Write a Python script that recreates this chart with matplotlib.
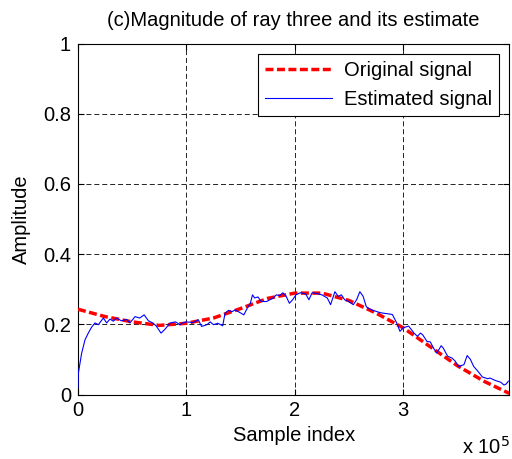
import numpy as np
import matplotlib
matplotlib.use('Agg')
from matplotlib import pyplot as plt

plt.rcParams['font.family'] = ['Liberation Sans', 'DejaVu Sans']

# sample index in units of 1e5
orig_x = [0, 0.25, 0.5, 0.75, 1.0, 1.25, 1.5, 1.75, 2.0, 2.25, 2.5, 2.75,
          3.0, 3.25, 3.5, 3.75, 3.98]
orig_y = [0.243, 0.222, 0.207, 0.197, 0.203, 0.218, 0.245, 0.274, 0.289,
          0.289, 0.268, 0.232, 0.190, 0.136, 0.082, 0.037, 0.003]

est_x = [0.0, 0.003, 0.034, 0.065, 0.095, 0.126, 0.157, 0.188, 0.234, 0.265,
         0.295, 0.326, 0.357, 0.40, 0.45, 0.48, 0.526, 0.57, 0.61, 0.65,
         0.69, 0.72, 0.766, 0.80, 0.85, 0.90, 0.94, 0.97, 1.0, 1.06,
         1.11, 1.14, 1.19, 1.22, 1.25, 1.29, 1.335, 1.357, 1.39, 1.42,
         1.45, 1.48, 1.53, 1.56, 1.59, 1.61, 1.63, 1.66, 1.69, 1.74,
         1.77, 1.80, 1.83, 1.86, 1.89, 1.92, 1.95, 1.98, 2.01, 2.05,
         2.10, 2.13, 2.16, 2.20, 2.25, 2.30, 2.33, 2.37, 2.40, 2.43,
         2.46, 2.49, 2.54, 2.57, 2.60, 2.63, 2.66, 2.69, 2.72, 2.75,
         2.78, 2.81, 2.86, 2.90, 2.94, 2.97, 3.00, 3.05, 3.10, 3.13,
         3.16, 3.18, 3.22, 3.25, 3.28, 3.31, 3.35, 3.37, 3.41, 3.45,
         3.48, 3.51, 3.56, 3.59, 3.62, 3.65, 3.69, 3.73, 3.78, 3.80,
         3.85, 3.90, 3.93, 3.95, 3.97]
est_y = [0.02, 0.06, 0.118, 0.156, 0.175, 0.192, 0.204, 0.199, 0.218, 0.204,
         0.215, 0.209, 0.218, 0.21, 0.214, 0.204, 0.222, 0.218, 0.227, 0.21,
         0.204, 0.196, 0.175, 0.185, 0.204, 0.207, 0.199, 0.205, 0.207, 0.205,
         0.213, 0.194, 0.199, 0.207, 0.199, 0.203, 0.196, 0.232, 0.24, 0.236,
         0.241, 0.236, 0.227, 0.245, 0.26, 0.284, 0.275, 0.278, 0.265, 0.265,
         0.27, 0.275, 0.284, 0.282, 0.29, 0.28, 0.26, 0.27, 0.284, 0.29,
         0.287, 0.27, 0.29, 0.288, 0.284, 0.275, 0.256, 0.293, 0.28, 0.284,
         0.27, 0.266, 0.256, 0.27, 0.293, 0.28, 0.25, 0.244, 0.24, 0.237,
         0.234, 0.232, 0.23, 0.228, 0.204, 0.18, 0.19, 0.195, 0.175, 0.166,
         0.175, 0.17, 0.151, 0.15, 0.132, 0.118, 0.139, 0.132, 0.109, 0.104,
         0.095, 0.08, 0.085, 0.111, 0.10, 0.08, 0.066, 0.05, 0.045, 0.047,
         0.04, 0.035, 0.027, 0.03, 0.038]

xticks = [0, 1, 2, 3]
yticks = [0, 0.2, 0.4, 0.6, 0.8, 1]
ytick_labels = ['0', '0.2', '0.4', '0.6', '0.8', '1']

fs = 14.5

fig = plt.figure(figsize=(5.12, 4.59), dpi=100)
ax = fig.add_axes([0.1523, 0.1405, 0.8427, 0.7645])

ax.plot(orig_x, orig_y, color='#ff0000', lw=2.5, dashes=(2.3, 1.0),
        label='Original signal', zorder=3)
ax.plot(est_x, est_y, color='#0000ff', lw=0.8, label='Estimated signal', zorder=4)

ax.set_xlim(0, 3.98)
ax.set_ylim(0, 1)
ax.set_xticks(xticks)
ax.set_yticks(yticks)
ax.set_yticklabels(ytick_labels)
ax.tick_params(direction='in', length=4, width=0.8, top=True, right=True,
               labelsize=fs, pad=5)
ax.grid(True, color='black', linestyle=(0, (6, 3.5)), lw=0.6)
for s in ax.spines.values():
    s.set_linewidth(0.8)

ax.set_title('(c)Magnitude of ray three and its estimate', fontsize=fs, pad=13)
ax.set_xlabel('Sample index', fontsize=fs, labelpad=4)
ax.set_ylabel('Amplitude', fontsize=fs, labelpad=9)
fig.text(0.903, 0.012, r'x 10$^5$', fontsize=fs, va='baseline')

leg = ax.legend(loc='upper right', fontsize=fs, fancybox=False, framealpha=1,
                edgecolor='black', handlelength=3.3, borderpad=0.35,
                labelspacing=0.5, handletextpad=0.6, borderaxespad=0,
                bbox_to_anchor=(0.976, 0.97))
leg.get_frame().set_linewidth(0.8)

fig.savefig('out.png', dpi=100, facecolor='white')
